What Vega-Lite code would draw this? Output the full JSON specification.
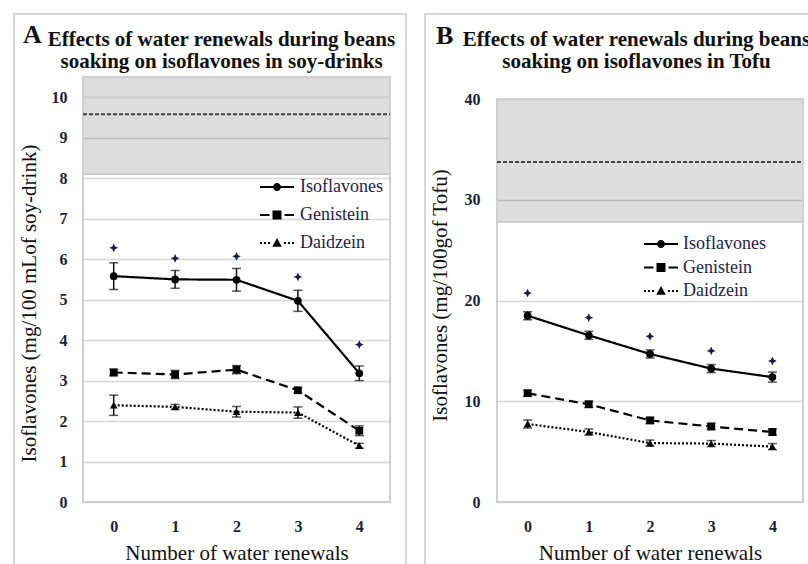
{
  "$schema": "https://vega.github.io/schema/vega-lite/v6.json",
  "background": "white",
  "padding": {"left": 12, "top": 12, "right": 0, "bottom": 0},
  "spacing": 17,
  "config": {
    "view": {"stroke": null},
    "font": "Liberation Serif",
    "axis": {"labelFont": "Liberation Serif", "titleFont": "Liberation Serif", "labelColor": "#1e1e3a", "titleColor": "#111111"},
    "legend": {"labelFont": "Liberation Serif"}
  },
  "resolve": {
    "scale": {"x": "independent", "y": "independent", "shape": "independent", "strokeDash": "independent"},
    "legend": {"shape": "independent", "strokeDash": "independent"}
  },
  "datasets": {
    "soy": [
      {"n": 0, "series": "Isoflavones", "mean": 5.58, "lo": 5.25, "hi": 5.91},
      {"n": 1, "series": "Isoflavones", "mean": 5.50, "lo": 5.28, "hi": 5.72},
      {"n": 2, "series": "Isoflavones", "mean": 5.49, "lo": 5.21, "hi": 5.77},
      {"n": 3, "series": "Isoflavones", "mean": 4.97, "lo": 4.71, "hi": 5.23},
      {"n": 4, "series": "Isoflavones", "mean": 3.18, "lo": 3.00, "hi": 3.36},
      {"n": 0, "series": "Genistein", "mean": 3.20, "lo": 3.12, "hi": 3.28},
      {"n": 1, "series": "Genistein", "mean": 3.15, "lo": 3.05, "hi": 3.25},
      {"n": 2, "series": "Genistein", "mean": 3.27, "lo": 3.17, "hi": 3.37},
      {"n": 3, "series": "Genistein", "mean": 2.76, "lo": 2.70, "hi": 2.82},
      {"n": 4, "series": "Genistein", "mean": 1.76, "lo": 1.64, "hi": 1.88},
      {"n": 0, "series": "Daidzein", "mean": 2.39, "lo": 2.14, "hi": 2.64},
      {"n": 1, "series": "Daidzein", "mean": 2.35, "lo": 2.29, "hi": 2.41},
      {"n": 2, "series": "Daidzein", "mean": 2.23, "lo": 2.10, "hi": 2.36},
      {"n": 3, "series": "Daidzein", "mean": 2.21, "lo": 2.07, "hi": 2.35},
      {"n": 4, "series": "Daidzein", "mean": 1.39, "lo": 1.33, "hi": 1.45}
    ],
    "soyStars": [
      {"n": 0, "star": 6.28}, {"n": 1, "star": 6.02}, {"n": 2, "star": 6.07}, {"n": 3, "star": 5.56}, {"n": 4, "star": 3.89}
    ],
    "soyRef": [{"band_lo": 8.1, "band_hi": 10.5, "ref": 9.58}],
    "tofu": [
      {"n": 0, "series": "Isoflavones", "mean": 18.5, "lo": 18.1, "hi": 18.9},
      {"n": 1, "series": "Isoflavones", "mean": 16.55, "lo": 16.15, "hi": 16.95},
      {"n": 2, "series": "Isoflavones", "mean": 14.7, "lo": 14.3, "hi": 15.1},
      {"n": 3, "series": "Isoflavones", "mean": 13.25, "lo": 12.85, "hi": 13.65},
      {"n": 4, "series": "Isoflavones", "mean": 12.4, "lo": 11.9, "hi": 12.9},
      {"n": 0, "series": "Genistein", "mean": 10.8, "lo": 10.5, "hi": 11.1},
      {"n": 1, "series": "Genistein", "mean": 9.7, "lo": 9.4, "hi": 10.0},
      {"n": 2, "series": "Genistein", "mean": 8.1, "lo": 7.8, "hi": 8.4},
      {"n": 3, "series": "Genistein", "mean": 7.5, "lo": 7.2, "hi": 7.8},
      {"n": 4, "series": "Genistein", "mean": 6.95, "lo": 6.65, "hi": 7.25},
      {"n": 0, "series": "Daidzein", "mean": 7.75, "lo": 7.35, "hi": 8.15},
      {"n": 1, "series": "Daidzein", "mean": 6.95, "lo": 6.65, "hi": 7.25},
      {"n": 2, "series": "Daidzein", "mean": 5.85, "lo": 5.55, "hi": 6.15},
      {"n": 3, "series": "Daidzein", "mean": 5.8, "lo": 5.5, "hi": 6.1},
      {"n": 4, "series": "Daidzein", "mean": 5.5, "lo": 5.2, "hi": 5.8}
    ],
    "tofuStars": [
      {"n": 0, "star": 20.75}, {"n": 1, "star": 18.3}, {"n": 2, "star": 16.45}, {"n": 3, "star": 15.0}, {"n": 4, "star": 14.0}
    ],
    "tofuRef": [{"band_lo": 27.8, "band_hi": 40, "ref": 33.76}]
  },
  "hconcat": [
    {
      "width": 307,
      "height": 425,
      "title": {"text": ["Effects of water renewals during beans", "soaking on isoflavones in soy-drinks"], "font": "Liberation Serif", "fontSize": 21, "fontWeight": "bold", "lineHeight": 22, "anchor": "middle", "frame": "group", "dx": -15, "baseline": "alphabetic", "offset": -76, "color": "#111111"},
      "resolve": {"scale": {"shape": "independent", "strokeDash": "independent"}, "legend": {"shape": "independent", "strokeDash": "independent"}},
      "layer": [
        {
          "data": {"values": [{}]},
          "mark": {"type": "rect", "fill": null, "stroke": "#d6d6d6", "strokeWidth": 2, "clip": false},
          "encoding": {
            "x": {"datum": -1.624, "type": "quantitative", "title": "Number of water renewals"},
            "x2": {"datum": 4.76},
            "y": {"datum": -2, "type": "quantitative", "title": "Isoflavones (mg/100 mLof soy-drink)"},
            "y2": {"datum": 12.056}
          }
        },
        {
          "data": {"name": "soyRef"},
          "mark": {"type": "rect", "fill": "#000000", "fillOpacity": 0.135, "stroke": "#c4c4c4", "strokeWidth": 1.5},
          "encoding": {
            "x": {"datum": -0.5, "type": "quantitative", "title": "Number of water renewals"},
            "x2": {"datum": 4.5},
            "y": {"field": "band_lo", "type": "quantitative", "title": "Isoflavones (mg/100 mLof soy-drink)"},
            "y2": {"field": "band_hi"}
          }
        },
        {
          "data": {"values": [{}]},
          "mark": {"type": "rect", "fill": null, "stroke": "#d0d0d0", "strokeWidth": 2},
          "encoding": {
            "x": {"datum": -0.5, "type": "quantitative", "title": "Number of water renewals"},
            "x2": {"datum": 4.5},
            "y": {"datum": 0, "type": "quantitative", "title": "Isoflavones (mg/100 mLof soy-drink)"},
            "y2": {"datum": 10}
          }
        },
        {
          "data": {"name": "soyRef"},
          "mark": {"type": "rule", "color": "#444444", "strokeWidth": 2, "strokeDash": [4, 2]},
          "encoding": {
            "x": {"datum": -0.5, "type": "quantitative", "title": "Number of water renewals"},
            "x2": {"datum": 4.5},
            "y": {"field": "ref", "type": "quantitative", "title": "Isoflavones (mg/100 mLof soy-drink)"}
          }
        },
        {
          "data": {"name": "soy"},
          "mark": {"type": "errorbar", "color": "#111111", "ticks": {"size": 9, "thickness": 1.5}, "rule": {"strokeWidth": 1.5}},
          "encoding": {
            "x": {"field": "n", "type": "quantitative", "title": "Number of water renewals"},
            "y": {"field": "lo", "type": "quantitative", "title": "Isoflavones (mg/100 mLof soy-drink)"},
            "y2": {"field": "hi"}
          }
        },
        {
          "data": {"name": "soy"},
          "mark": {"type": "line", "color": "#000000", "strokeWidth": 2.2},
          "encoding": {
            "x": {
              "field": "n", "type": "quantitative", "title": "Number of water renewals",
              "scale": {"domain": [-0.5, 4.5], "nice": false, "zero": false},
              "axis": {"values": [0, 1, 2, 3, 4], "format": "d", "grid": false, "ticks": false, "domain": false, "labelFontWeight": "bold", "labelFontSize": 16, "labelPadding": 16, "titleFontSize": 21, "titleFontWeight": "normal", "titlePadding": 8}
            },
            "y": {
              "field": "mean", "type": "quantitative", "title": "Isoflavones (mg/100 mLof soy-drink)",
              "scale": {"domain": [0, 10.5], "nice": false, "zero": true},
              "axis": {"values": [0, 1, 2, 3, 4, 5, 6, 7, 8, 9, 10], "format": "d", "grid": true, "gridColor": "#d6d6d6", "gridWidth": 1.5, "ticks": false, "domain": false, "labelFontWeight": "bold", "labelFontSize": 16, "labelPadding": 16, "titleFontSize": 21, "titleFontWeight": "normal", "titlePadding": 12, "titleY": 226}
            },
            "strokeDash": {"field": "series", "type": "nominal", "scale": {"domain": ["Isoflavones", "Genistein", "Daidzein"], "range": [[1, 0], [9, 5], [2, 2]]}, "legend": null}
          }
        },
        {
          "data": {"name": "soy"},
          "mark": {"type": "point", "filled": true, "color": "#000000", "opacity": 1, "size": 60},
          "encoding": {
            "x": {"field": "n", "type": "quantitative", "title": "Number of water renewals"},
            "y": {"field": "mean", "type": "quantitative", "title": "Isoflavones (mg/100 mLof soy-drink)"},
            "shape": {"field": "series", "type": "nominal", "scale": {"domain": ["Isoflavones", "Genistein", "Daidzein"], "range": ["circle", "square", "triangle-up"]}, "legend": null}
          }
        },
        {
          "data": {"name": "soyStars"},
          "mark": {"type": "point", "filled": true, "color": "#1c1c4c", "opacity": 1, "size": 75, "shape": "M0,-1L0.32,-0.32L1,0L0.32,0.32L0,1L-0.32,0.32L-1,0L-0.32,-0.32Z"},
          "encoding": {
            "x": {"field": "n", "type": "quantitative", "title": "Number of water renewals"},
            "y": {"field": "star", "type": "quantitative", "title": "Isoflavones (mg/100 mLof soy-drink)"}
          }
        },
        {
          "data": {"values": [{}]},
          "mark": {"type": "text", "text": "A", "font": "Liberation Serif", "fontSize": 26, "fontWeight": "bold", "align": "left", "baseline": "alphabetic", "color": "#111111"},
          "encoding": {
            "x": {"datum": -1.477, "type": "quantitative", "title": "Number of water renewals"},
            "y": {"datum": 11.34, "type": "quantitative", "title": "Isoflavones (mg/100 mLof soy-drink)"}
          }
        },
        {
          "data": {"name": "soy"},
          "transform": [{"filter": "false"}],
          "mark": {"type": "point", "filled": true, "color": "#000000", "opacity": 1},
          "encoding": {
            "x": {"field": "n", "type": "quantitative", "title": "Number of water renewals"},
            "y": {"field": "mean", "type": "quantitative", "title": "Isoflavones (mg/100 mLof soy-drink)"},
            "shape": {"field": "series", "type": "nominal", "scale": {"domain": ["Isoflavones", "Genistein", "Daidzein"], "range": [
              "M-3.4,-0.2H3.4V0.2H-3.4Z M-0.8,0A0.8,0.8 0 1,1 0.8,0A0.8,0.8 0 1,1 -0.8,0Z",
              "M-3.4,-0.2H-1.5V0.2H-3.4Z M-0.9,-0.9H0.9V0.9H-0.9Z M1.5,-0.2H3.4V0.2H1.5Z",
              "M-3.4,-0.2H-3.0V0.2H-3.4Z M-2.6,-0.2H-2.2V0.2H-2.6Z M-1.8,-0.2H-1.4V0.2H-1.8Z M0,-1L0.95,0.75H-0.95Z M1.4,-0.2H1.8V0.2H1.4Z M2.2,-0.2H2.6V0.2H2.2Z M3.0,-0.2H3.4V0.2H3.0Z"
            ]},
              "legend": {"orient": "none", "legendX": 185, "legendY": 101, "title": null, "labelFont": "Liberation Serif", "labelFontSize": 18, "labelColor": "#1e1e4a", "symbolSize": 100, "symbolStrokeWidth": 0, "symbolFillColor": "#000000", "symbolOpacity": 1, "labelOffset": 14, "rowPadding": 10}}
          }
        }
      ]
    },
    {
      "width": 306,
      "height": 425,
      "title": {"text": ["Effects of water renewals during beans", "soaking on isoflavones in Tofu"], "font": "Liberation Serif", "fontSize": 21, "fontWeight": "bold", "lineHeight": 22, "anchor": "middle", "frame": "group", "dx": -13.5, "baseline": "alphabetic", "offset": -76, "color": "#111111"},
      "resolve": {"scale": {"shape": "independent", "strokeDash": "independent"}, "legend": {"shape": "independent", "strokeDash": "independent"}},
      "layer": [
        {
          "data": {"values": [{}]},
          "mark": {"type": "rect", "fill": null, "stroke": "#d6d6d6", "strokeWidth": 2, "clip": false},
          "encoding": {
            "x": {"datum": -1.676, "type": "quantitative", "title": "Number of water renewals"},
            "x2": {"datum": 4.76},
            "y": {"datum": -8, "type": "quantitative", "title": "Isoflavones (mg/100gof Tofu)"},
            "y2": {"datum": 48.456}
          }
        },
        {
          "data": {"name": "tofuRef"},
          "mark": {"type": "rect", "fill": "#000000", "fillOpacity": 0.135, "stroke": "#c4c4c4", "strokeWidth": 1.5},
          "encoding": {
            "x": {"datum": -0.5, "type": "quantitative", "title": "Number of water renewals"},
            "x2": {"datum": 4.5},
            "y": {"field": "band_lo", "type": "quantitative", "title": "Isoflavones (mg/100gof Tofu)"},
            "y2": {"field": "band_hi"}
          }
        },
        {
          "data": {"values": [{}]},
          "mark": {"type": "rect", "fill": null, "stroke": "#d0d0d0", "strokeWidth": 2},
          "encoding": {
            "x": {"datum": -0.5, "type": "quantitative", "title": "Number of water renewals"},
            "x2": {"datum": 4.5},
            "y": {"datum": 0, "type": "quantitative", "title": "Isoflavones (mg/100gof Tofu)"},
            "y2": {"datum": 40}
          }
        },
        {
          "data": {"name": "tofuRef"},
          "mark": {"type": "rule", "color": "#444444", "strokeWidth": 2, "strokeDash": [4, 2]},
          "encoding": {
            "x": {"datum": -0.5, "type": "quantitative", "title": "Number of water renewals"},
            "x2": {"datum": 4.5},
            "y": {"field": "ref", "type": "quantitative", "title": "Isoflavones (mg/100gof Tofu)"}
          }
        },
        {
          "data": {"name": "tofu"},
          "mark": {"type": "errorbar", "color": "#111111", "ticks": {"size": 9, "thickness": 1.5}, "rule": {"strokeWidth": 1.5}},
          "encoding": {
            "x": {"field": "n", "type": "quantitative", "title": "Number of water renewals"},
            "y": {"field": "lo", "type": "quantitative", "title": "Isoflavones (mg/100gof Tofu)"},
            "y2": {"field": "hi"}
          }
        },
        {
          "data": {"name": "tofu"},
          "mark": {"type": "line", "color": "#000000", "strokeWidth": 2.2},
          "encoding": {
            "x": {
              "field": "n", "type": "quantitative", "title": "Number of water renewals",
              "scale": {"domain": [-0.5, 4.5], "nice": false, "zero": false},
              "axis": {"values": [0, 1, 2, 3, 4], "format": "d", "grid": false, "ticks": false, "domain": false, "labelFontWeight": "bold", "labelFontSize": 16, "labelPadding": 16, "titleFontSize": 21, "titleFontWeight": "normal", "titlePadding": 8}
            },
            "y": {
              "field": "mean", "type": "quantitative", "title": "Isoflavones (mg/100gof Tofu)",
              "scale": {"domain": [0, 42.2], "nice": false, "zero": true},
              "axis": {"values": [0, 10, 20, 30, 40], "format": "d", "grid": true, "gridColor": "#d6d6d6", "gridWidth": 1.5, "ticks": false, "domain": false, "labelFontWeight": "bold", "labelFontSize": 16, "labelPadding": 17, "titleFontSize": 21, "titleFontWeight": "normal", "titlePadding": 14, "titleY": 218}
            },
            "strokeDash": {"field": "series", "type": "nominal", "scale": {"domain": ["Isoflavones", "Genistein", "Daidzein"], "range": [[1, 0], [9, 5], [2, 2]]}, "legend": null}
          }
        },
        {
          "data": {"name": "tofu"},
          "mark": {"type": "point", "filled": true, "color": "#000000", "opacity": 1, "size": 60},
          "encoding": {
            "x": {"field": "n", "type": "quantitative", "title": "Number of water renewals"},
            "y": {"field": "mean", "type": "quantitative", "title": "Isoflavones (mg/100gof Tofu)"},
            "shape": {"field": "series", "type": "nominal", "scale": {"domain": ["Isoflavones", "Genistein", "Daidzein"], "range": ["circle", "square", "triangle-up"]}, "legend": null}
          }
        },
        {
          "data": {"name": "tofuStars"},
          "mark": {"type": "point", "filled": true, "color": "#1c1c4c", "opacity": 1, "size": 75, "shape": "M0,-1L0.32,-0.32L1,0L0.32,0.32L0,1L-0.32,0.32L-1,0L-0.32,-0.32Z"},
          "encoding": {
            "x": {"field": "n", "type": "quantitative", "title": "Number of water renewals"},
            "y": {"field": "star", "type": "quantitative", "title": "Isoflavones (mg/100gof Tofu)"}
          }
        },
        {
          "data": {"values": [{}]},
          "mark": {"type": "text", "text": "B", "font": "Liberation Serif", "fontSize": 26, "fontWeight": "bold", "align": "left", "baseline": "alphabetic", "color": "#111111"},
          "encoding": {
            "x": {"datum": -1.497, "type": "quantitative", "title": "Number of water renewals"},
            "y": {"datum": 45.48, "type": "quantitative", "title": "Isoflavones (mg/100gof Tofu)"}
          }
        },
        {
          "data": {"name": "tofu"},
          "transform": [{"filter": "false"}],
          "mark": {"type": "point", "filled": true, "color": "#000000", "opacity": 1},
          "encoding": {
            "x": {"field": "n", "type": "quantitative", "title": "Number of water renewals"},
            "y": {"field": "mean", "type": "quantitative", "title": "Isoflavones (mg/100gof Tofu)"},
            "shape": {"field": "series", "type": "nominal", "scale": {"domain": ["Isoflavones", "Genistein", "Daidzein"], "range": [
              "M-3.4,-0.2H3.4V0.2H-3.4Z M-0.8,0A0.8,0.8 0 1,1 0.8,0A0.8,0.8 0 1,1 -0.8,0Z",
              "M-3.4,-0.2H-1.5V0.2H-3.4Z M-0.9,-0.9H0.9V0.9H-0.9Z M1.5,-0.2H3.4V0.2H1.5Z",
              "M-3.4,-0.2H-3.0V0.2H-3.4Z M-2.6,-0.2H-2.2V0.2H-2.6Z M-1.8,-0.2H-1.4V0.2H-1.8Z M0,-1L0.95,0.75H-0.95Z M1.4,-0.2H1.8V0.2H1.4Z M2.2,-0.2H2.6V0.2H2.2Z M3.0,-0.2H3.4V0.2H3.0Z"
            ]},
              "legend": {"orient": "none", "legendX": 155, "legendY": 158, "title": null, "labelFont": "Liberation Serif", "labelFontSize": 18, "labelColor": "#1e1e4a", "symbolSize": 100, "symbolStrokeWidth": 0, "symbolFillColor": "#000000", "symbolOpacity": 1, "labelOffset": 13, "rowPadding": 5.5}}
          }
        }
      ]
    }
  ]
}
